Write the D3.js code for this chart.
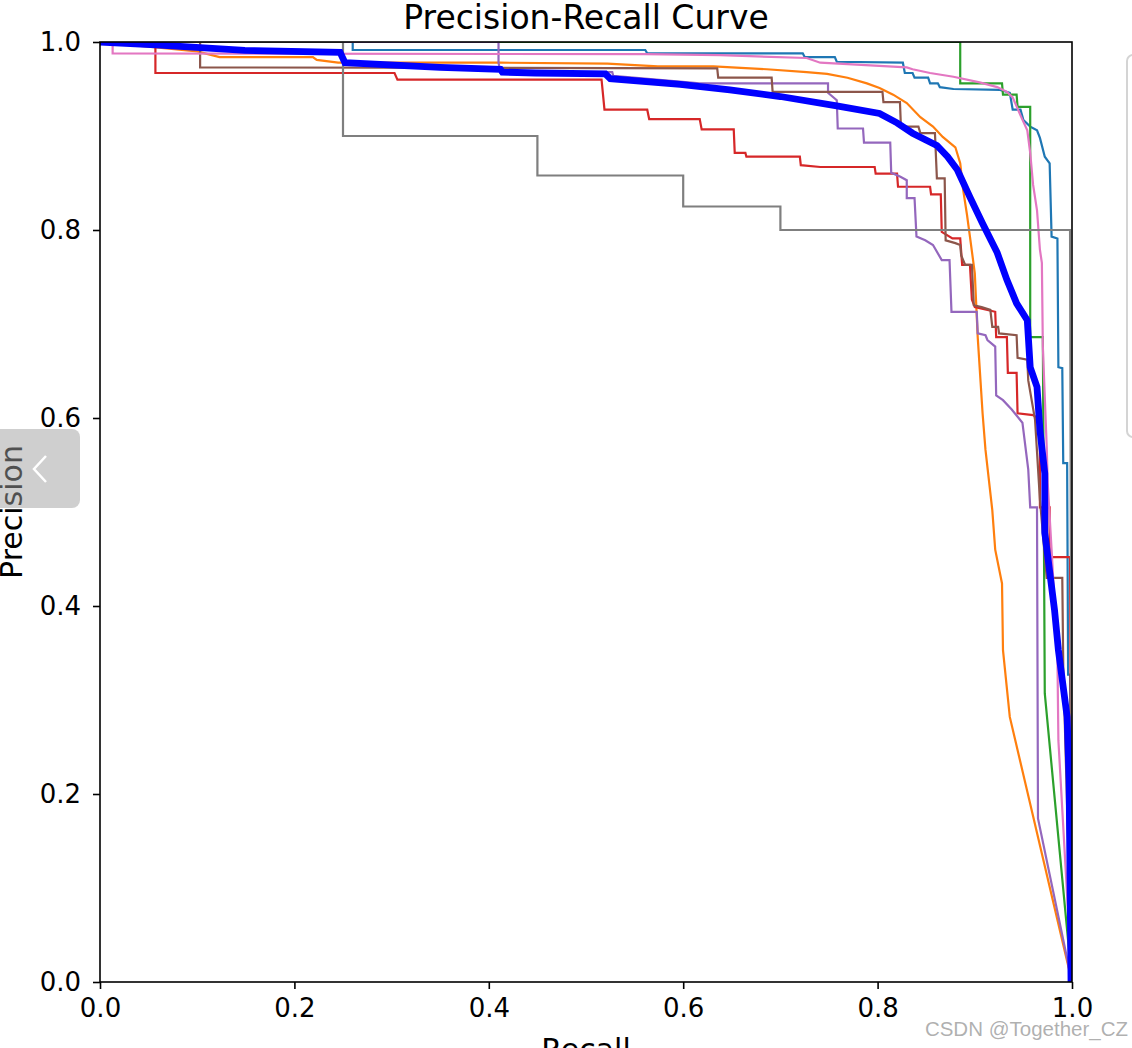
<!DOCTYPE html>
<html>
<head>
<meta charset="utf-8">
<script src="https://cdn.jsdelivr.net/npm/d3@7"></script>
<style>
  html, body { margin: 0; padding: 0; background: #fff; }
  svg { display: block; font-family: "DejaVu Sans", sans-serif; }
</style>
</head>
<body>
<div id="chart"></div>
<script>
// per-class PR curves, [recall, precision] vertices
const classC0 = [[0, 1], [0.26, 1], [0.26, 0.9915], [0.561, 0.9915], [0.563, 0.988], [0.723, 0.988], [0.725, 0.984],
  [0.756, 0.984], [0.758, 0.979], [0.826, 0.978], [0.828, 0.967], [0.836, 0.967], [0.838, 0.962], [0.852, 0.962],
  [0.854, 0.956], [0.862, 0.956], [0.864, 0.952], [0.878, 0.95], [0.926, 0.949], [0.936, 0.946], [0.939, 0.928],
  [0.947, 0.928], [0.95, 0.917], [0.957, 0.91], [0.964, 0.906], [0.967, 0.898], [0.972, 0.878], [0.977, 0.871],
  [0.979, 0.793], [0.985, 0.791], [0.986, 0.654], [0.99, 0.653], [0.991, 0.552], [0.995, 0.552], [0.996, 0.327],
  [0.998, 0.327], [1, 0]];
const classC1 = [[0, 1], [0.05, 0.995], [0.1, 0.99], [0.123, 0.984], [0.219, 0.984], [0.223, 0.981], [0.245, 0.978],
  [0.412, 0.978], [0.522, 0.977], [0.574, 0.974], [0.631, 0.974], [0.686, 0.971], [0.727, 0.968], [0.748, 0.966],
  [0.769, 0.962], [0.789, 0.956], [0.802, 0.951], [0.816, 0.944], [0.83, 0.935], [0.844, 0.92], [0.857, 0.91],
  [0.867, 0.899], [0.88, 0.888], [0.885, 0.871], [0.888, 0.843], [0.892, 0.816], [0.895, 0.793], [0.9, 0.754],
  [0.903, 0.686], [0.908, 0.605], [0.911, 0.566], [0.918, 0.502], [0.921, 0.46], [0.928, 0.424], [0.929, 0.353],
  [0.936, 0.282], [1, 0]];
const classC2 = [[0, 1], [0.885, 1], [0.885, 0.956], [0.928, 0.956], [0.929, 0.944], [0.943, 0.944], [0.944, 0.931],
  [0.957, 0.931], [0.957, 0.686], [0.97, 0.686], [0.972, 0.307], [1, 0]];
const classC3 = [[0, 1], [0.057, 0.997], [0.057, 0.967], [0.303, 0.967], [0.306, 0.96], [0.516, 0.96], [0.519, 0.928],
  [0.563, 0.928], [0.565, 0.918], [0.617, 0.918], [0.619, 0.907], [0.652, 0.907], [0.653, 0.882], [0.664, 0.882],
  [0.665, 0.878], [0.72, 0.878], [0.721, 0.869], [0.741, 0.867], [0.797, 0.867], [0.798, 0.86], [0.82, 0.86],
  [0.821, 0.846], [0.854, 0.846], [0.855, 0.838], [0.865, 0.838], [0.866, 0.798], [0.877, 0.791], [0.885, 0.791],
  [0.887, 0.763], [0.895, 0.763], [0.897, 0.726], [0.9, 0.718], [0.921, 0.713], [0.922, 0.686], [0.933, 0.686],
  [0.934, 0.648], [0.943, 0.648], [0.944, 0.605], [0.96, 0.603], [0.967, 0.598], [0.967, 0.505], [0.977, 0.505],
  [0.977, 0.452], [0.998, 0.452], [1, 0]];
const classC4 = [[0, 1], [0.41, 1], [0.41, 0.978], [0.412, 0.968], [0.527, 0.968], [0.528, 0.964], [0.617, 0.956],
  [0.749, 0.956], [0.749, 0.946], [0.758, 0.938], [0.759, 0.908], [0.785, 0.908], [0.786, 0.893], [0.813, 0.893],
  [0.814, 0.861], [0.823, 0.857], [0.83, 0.853], [0.83, 0.834], [0.838, 0.834], [0.84, 0.793], [0.849, 0.789],
  [0.857, 0.784], [0.866, 0.768], [0.874, 0.768], [0.876, 0.713], [0.902, 0.713], [0.903, 0.69], [0.911, 0.688],
  [0.913, 0.683], [0.921, 0.676], [0.922, 0.624], [0.929, 0.619], [0.938, 0.609], [0.949, 0.595], [0.955, 0.545],
  [0.957, 0.505], [0.964, 0.505], [0.965, 0.174], [1, 0]];
const classC5 = [[0, 1], [0.103, 1], [0.103, 0.973], [0.635, 0.972], [0.636, 0.962], [0.691, 0.962], [0.692, 0.947],
  [0.805, 0.947], [0.806, 0.936], [0.823, 0.936], [0.824, 0.91], [0.842, 0.91], [0.844, 0.903], [0.859, 0.903],
  [0.861, 0.855], [0.869, 0.855], [0.87, 0.789], [0.88, 0.786], [0.885, 0.784], [0.886, 0.773], [0.89, 0.763],
  [0.897, 0.763], [0.899, 0.72], [0.907, 0.718], [0.916, 0.715], [0.918, 0.697], [0.924, 0.697], [0.925, 0.69],
  [0.943, 0.688], [0.944, 0.664], [0.954, 0.662], [0.955, 0.64], [0.962, 0.598], [0.967, 0.513], [0.974, 0.43],
  [0.99, 0.43], [0.991, 0.335], [1, 0]];
const classC6 = [[0, 1], [0.013, 0.999], [0.013, 0.988], [0.561, 0.987], [0.638, 0.986], [0.727, 0.983], [0.741, 0.978],
  [0.83, 0.973], [0.836, 0.971], [0.854, 0.967], [0.878, 0.963], [0.905, 0.957], [0.923, 0.952], [0.933, 0.947],
  [0.939, 0.941], [0.947, 0.922], [0.954, 0.906], [0.957, 0.882], [0.96, 0.848], [0.964, 0.821], [0.967, 0.779],
  [0.969, 0.765], [0.97, 0.676], [0.974, 0.569], [0.975, 0.531], [0.979, 0.46], [0.985, 0.346], [0.986, 0.257],
  [1, 0]];
const classC7 = [[0, 1], [0.25, 1], [0.25, 0.9], [0.45, 0.9], [0.45, 0.858], [0.6, 0.858], [0.6, 0.825], [0.7, 0.825],
  [0.7, 0.8], [0.998, 0.8], [1, 0]];
// mean over all classes (thick blue)
const allClasses = [[0, 1], [0.057, 0.997], [0.103, 0.994], [0.149, 0.991], [0.247, 0.989], [0.252, 0.978],
  [0.35, 0.973], [0.412, 0.971], [0.414, 0.968], [0.448, 0.967], [0.52, 0.966], [0.525, 0.961], [0.597, 0.955],
  [0.648, 0.949], [0.7, 0.942], [0.758, 0.932], [0.802, 0.924], [0.82, 0.914], [0.836, 0.903], [0.861, 0.89],
  [0.872, 0.878], [0.882, 0.864], [0.895, 0.835], [0.908, 0.807], [0.923, 0.776], [0.933, 0.747], [0.943, 0.722],
  [0.954, 0.704], [0.957, 0.654], [0.964, 0.633], [0.967, 0.587], [0.972, 0.541], [0.972, 0.478], [0.982, 0.396],
  [0.986, 0.353], [0.995, 0.282], [0.997, 0.215], [0.999, 0]];

const classCurves = [classC0, classC1, classC2, classC3, classC4, classC5, classC6, classC7];
const classColors = ["#1f77b4", "#ff7f0e", "#2ca02c", "#d62728", "#9467bd", "#8c564b", "#e377c2", "#7f7f7f"];
const tickValues = [0, 0.2, 0.4, 0.6, 0.8, 1.0];

const W = 1132, H = 1048;
const margin = { top: 42, right: 60, bottom: 66, left: 100 };
const plotW = 972, plotH = 940;

const svg = d3.select("#chart").append("svg")
  .attr("width", W)
  .attr("height", H);

const x = d3.scaleLinear().domain([0, 1]).range([0, plotW]);
const y = d3.scaleLinear().domain([0, 1]).range([plotH, 0]);

svg.append("defs").append("clipPath").attr("id", "plotClip")
  .append("rect").attr("width", plotW).attr("height", plotH);

const g = svg.append("g").attr("transform", `translate(${margin.left},${margin.top})`);

const line = d3.line().x(d => x(d[0])).y(d => y(d[1]));

const curves = g.append("g").attr("clip-path", "url(#plotClip)");

curves.selectAll(".pr-class")
  .data(classCurves)
  .enter()
  .append("path")
  .attr("class", "pr-class")
  .attr("d", line)
  .attr("fill", "none")
  .attr("stroke", (d, i) => classColors[i])
  .attr("stroke-width", 2.2);

curves.append("path")
  .datum(allClasses)
  .attr("d", line)
  .attr("fill", "none")
  .attr("stroke", "blue")
  .attr("stroke-width", 6.8);

// axes
const fmt = d3.format(".1f");
const xAxis = g.append("g")
  .attr("transform", `translate(0,${plotH})`)
  .call(d3.axisBottom(x).tickValues(tickValues).tickFormat(fmt).tickSizeInner(7).tickSizeOuter(0).tickPadding(10));
const yAxis = g.append("g")
  .call(d3.axisLeft(y).tickValues(tickValues).tickFormat(fmt).tickSizeInner(7).tickSizeOuter(0).tickPadding(12));

[xAxis, yAxis].forEach(a => {
  a.select(".domain").remove();
  a.selectAll("line").attr("stroke", "#000").attr("stroke-width", 1.6);
  a.selectAll("text").attr("fill", "#000").style("font-size", "26px").style("font-family", "DejaVu Sans");
});

g.append("rect")
  .attr("width", plotW).attr("height", plotH)
  .attr("fill", "none").attr("stroke", "#000").attr("stroke-width", 1.6);

// titles
svg.append("text")
  .attr("x", margin.left + plotW / 2).attr("y", 29)
  .attr("text-anchor", "middle")
  .style("font-size", "33px")
  .text("Precision-Recall Curve");

svg.append("text")
  .attr("x", margin.left + plotW / 2).attr("y", 1060)
  .attr("text-anchor", "middle")
  .style("font-size", "30px")
  .text("Recall");

svg.append("text")
  .attr("transform", `translate(22,${margin.top + plotH / 2}) rotate(-90)`)
  .attr("text-anchor", "middle")
  .style("font-size", "30px")
  .text("Precision");

// legend frame (cut off at the right edge)
svg.append("rect")
  .attr("x", 1127).attr("y", 55)
  .attr("width", 120).attr("height", 382)
  .attr("rx", 6)
  .attr("fill", "#fff")
  .attr("stroke", "#d4d4d4")
  .attr("stroke-width", 2);

// page overlay button on the left
svg.append("rect")
  .attr("x", -10).attr("y", 429)
  .attr("width", 90).attr("height", 79)
  .attr("rx", 8)
  .attr("fill", "rgba(160,160,160,0.5)");
svg.append("path")
  .attr("d", "M46,456 L34,469 L46,482")
  .attr("fill", "none")
  .attr("stroke", "#fff")
  .attr("stroke-width", 2.5);

// watermark
svg.append("text")
  .attr("x", 1128).attr("y", 1036)
  .attr("text-anchor", "end")
  .style("font-family", "Liberation Sans, sans-serif")
  .style("font-size", "20.5px")
  .attr("fill", "rgba(150,150,150,0.75)")
  .text("CSDN @Together_CZ");
</script>
</body>
</html>
